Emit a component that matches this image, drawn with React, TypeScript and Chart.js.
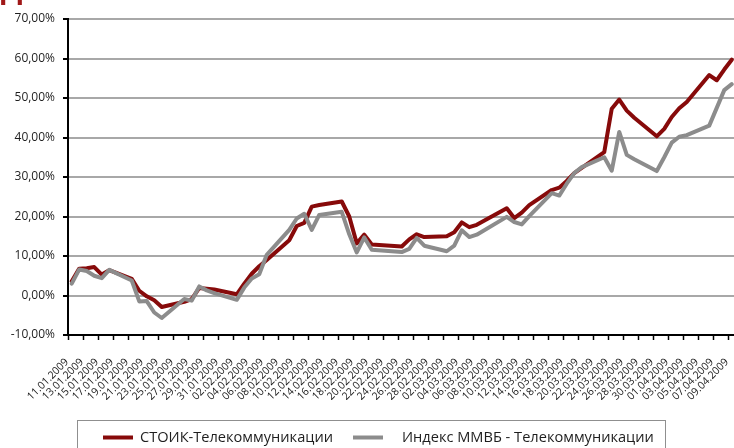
import React, { useEffect, useRef } from "react";
import { Chart, registerables } from "chart.js";

Chart.register(...registerables);

// Trading dates (categories)
const tradingDates = [
  "11.01.2009", "12.01.2009", "13.01.2009", "14.01.2009", "15.01.2009", "16.01.2009",
  "19.01.2009", "20.01.2009", "21.01.2009", "22.01.2009", "23.01.2009",
  "26.01.2009", "27.01.2009", "28.01.2009", "29.01.2009", "30.01.2009",
  "02.02.2009", "03.02.2009", "04.02.2009", "05.02.2009", "06.02.2009",
  "09.02.2009", "10.02.2009", "11.02.2009", "12.02.2009", "13.02.2009",
  "16.02.2009", "17.02.2009", "18.02.2009", "19.02.2009", "20.02.2009",
  "24.02.2009", "25.02.2009", "26.02.2009", "27.02.2009",
  "02.03.2009", "03.03.2009", "04.03.2009", "05.03.2009", "06.03.2009",
  "10.03.2009", "11.03.2009", "12.03.2009", "13.03.2009",
  "16.03.2009", "17.03.2009", "18.03.2009", "19.03.2009", "20.03.2009",
  "23.03.2009", "24.03.2009", "25.03.2009", "26.03.2009", "27.03.2009",
  "30.03.2009", "31.03.2009", "01.04.2009", "02.04.2009", "03.04.2009",
  "06.04.2009", "07.04.2009", "08.04.2009", "09.04.2009",
];

// СТОИК-Телекоммуникации, %
const stoikValues = [
  3.6, 6.8, 6.9, 7.2, 5.3, 6.4,
  4.2, 1.2, -0.2, -1.2, -2.9,
  -1.6, -0.9, 1.9, 1.7, 1.5,
  0.3, 3.0, 5.5, 7.4, 9.0,
  14.0, 17.6, 18.4, 22.5, 22.9,
  23.8, 20.0, 13.2, 15.4, 12.9,
  12.4, 14.2, 15.5, 14.8,
  15.0, 16.0, 18.5, 17.3, 17.9,
  22.1, 19.6, 21.0, 22.9,
  26.7, 27.3, 29.0, 31.0, 32.3,
  36.3, 47.3, 49.6, 46.8, 45.0,
  40.3, 42.2, 45.2, 47.4, 49.0,
  55.8, 54.5, 57.2, 59.7,
];

// Индекс ММВБ - Телекоммуникации, %
const micexTelecomValues = [
  3.0, 6.6, 6.2, 5.0, 4.4, 6.5,
  3.8, -1.5, -1.4, -4.3, -5.7,
  -0.9, -1.3, 2.3, 1.3, 0.6,
  -1.1, 2.0, 4.3, 5.4, 10.3,
  16.6, 19.5, 20.7, 16.6, 20.4,
  21.2, 15.5, 10.9, 14.7, 11.6,
  11.0, 11.8, 14.6, 12.6,
  11.2, 12.6, 16.5, 14.8, 15.4,
  19.9, 18.6, 18.0, 20.1,
  25.9, 25.3, 28.3, 31.0, 32.5,
  35.0, 31.6, 41.4, 35.6, 34.5,
  31.5, 35.0, 38.7, 40.2, 40.6,
  43.0, 47.5, 52.0, 53.5,
];

const seriesNames = ["СТОИК-Телекоммуникации", "Индекс ММВБ - Телекоммуникации"];
const seriesColors = ["#870a0a", "#8c8c8c"];

// X axis tick labels (every 2 days)
const tickLabels = [
  "11.01.2009", "13.01.2009", "15.01.2009", "17.01.2009", "19.01.2009", "21.01.2009",
  "23.01.2009", "25.01.2009", "27.01.2009", "29.01.2009", "31.01.2009", "02.02.2009",
  "04.02.2009", "06.02.2009", "08.02.2009", "10.02.2009", "12.02.2009", "14.02.2009",
  "16.02.2009", "18.02.2009", "20.02.2009", "22.02.2009", "24.02.2009", "26.02.2009",
  "28.02.2009", "02.03.2009", "04.03.2009", "06.03.2009", "08.03.2009", "10.03.2009",
  "12.03.2009", "14.03.2009", "16.03.2009", "18.03.2009", "20.03.2009", "22.03.2009",
  "24.03.2009", "26.03.2009", "28.03.2009", "30.03.2009", "01.04.2009", "03.04.2009",
  "05.04.2009", "07.04.2009", "09.04.2009",
];

const yMin = -10;
const yMax = 70;
const yStep = 10;

function dayIndex(s: string): number {
  const [d, m, y] = s.split(".").map(Number);
  return (Date.UTC(y, m - 1, d) - Date.UTC(2009, 0, 11)) / 86400000;
}

const FONT = '"Open Sans", "DejaVu Sans", sans-serif';

const boxLegendPlugin = {
  id: "boxLegend",
  afterDraw(chart: any) {
    const ctx = chart.ctx as CanvasRenderingContext2D;
    ctx.save();
    // cut-off title remnant
    ctx.fillStyle = "#a01818";
    ctx.font = `bold 28px ${FONT}`;
    ctx.textBaseline = "alphabetic";
    ctx.textAlign = "left";
    ctx.fillText("Д", 1, -1);

    ctx.strokeStyle = "#8f8f8f";
    ctx.lineWidth = 1;
    ctx.strokeRect(77.5, 420.5, 588, 40);
    const items = [
      { x0: 103, x1: 133, tx: 140 },
      { x0: 353, x1: 383, tx: 402 },
    ];
    const y = 437.5;
    ctx.font = `14.6px ${FONT}`;
    ctx.textBaseline = "middle";
    chart.data.datasets.forEach((ds: any, i: number) => {
      const it = items[i];
      ctx.strokeStyle = ds.borderColor;
      ctx.lineWidth = 4;
      ctx.beginPath();
      ctx.moveTo(it.x0, y);
      ctx.lineTo(it.x1, y);
      ctx.stroke();
      ctx.fillStyle = "#1e1e1e";
      ctx.fillText(ds.label, it.tx, y);
    });
    ctx.restore();
  },
};

export default function App() {
  const canvasRef = useRef<HTMLCanvasElement | null>(null);

  useEffect(() => {
    if (!canvasRef.current) return;
    const toPoints = (vals: number[]) =>
      tradingDates.map((d, i) => ({ x: dayIndex(d) + 0.5, y: vals[i] }));

    const chart = new Chart(canvasRef.current, {
      type: "line",
      data: {
        datasets: [
          {
            label: seriesNames[0],
            data: toPoints(stoikValues),
            borderColor: seriesColors[0],
            backgroundColor: seriesColors[0],
            borderWidth: 4,
            pointRadius: 0,
            tension: 0,
            borderJoinStyle: "round",
            borderCapStyle: "round",
            order: 2,
          },
          {
            label: seriesNames[1],
            data: toPoints(micexTelecomValues),
            borderColor: seriesColors[1],
            backgroundColor: seriesColors[1],
            borderWidth: 4,
            pointRadius: 0,
            tension: 0,
            borderJoinStyle: "round",
            borderCapStyle: "round",
            order: 1,
          },
        ],
      },
      options: {
        animation: false,
        responsive: true,
        maintainAspectRatio: false,
        layout: { padding: { top: 19, left: 0, right: 0, bottom: 48 } },
        plugins: {
          legend: { display: false },
          tooltip: { enabled: false },
        },
        scales: {
          x: {
            type: "linear",
            min: 0,
            max: 88.8,
            afterBuildTicks: (scale: any) => {
              scale.ticks = tickLabels.map((t) => ({ value: dayIndex(t) }));
            },
            afterFit: (scale: any) => {
              scale.height = 65;
              scale.paddingLeft = 0;
              scale.paddingRight = 0;
            },
            grid: {
              display: true,
              drawOnChartArea: false,
              drawTicks: true,
              tickLength: 5,
              tickColor: "#000",
              tickWidth: 1.5,
            },
            border: { display: true, color: "#000", width: 2 },
            ticks: {
              autoSkip: false,
              maxRotation: 45,
              minRotation: 45,
              padding: 16,
              labelOffset: -1,
              color: "#1a1a1a",
              font: { family: FONT, size: 10.5 },
              callback: (_v: any, i: number) => tickLabels[i],
            },
          },
          y: {
            min: yMin,
            max: yMax,
            afterFit: (scale: any) => {
              scale.width = 68;
              scale.paddingTop = 0;
              scale.paddingBottom = 0;
            },
            grid: {
              color: "#a8a8a8",
              lineWidth: 2,
              drawTicks: true,
              tickLength: 5,
              tickColor: "#000",
              tickWidth: 2,
            },
            border: { display: true, color: "#000", width: 2 },
            ticks: {
              stepSize: yStep,
              padding: 8,
              color: "#1e1e1e",
              font: { family: FONT, size: 12 },
              callback: (v: any) => Number(v).toFixed(2).replace(".", ",") + "%",
            },
          },
        },
      },
      plugins: [boxLegendPlugin],
    });
    return () => chart.destroy();
  }, []);

  return (
    <div
      style={{
        position: "fixed",
        left: 0,
        top: 0,
        width: 734,
        height: 448,
        overflow: "hidden",
        background: "#fff",
      }}
    >
      <canvas ref={canvasRef} />
    </div>
  );
}
